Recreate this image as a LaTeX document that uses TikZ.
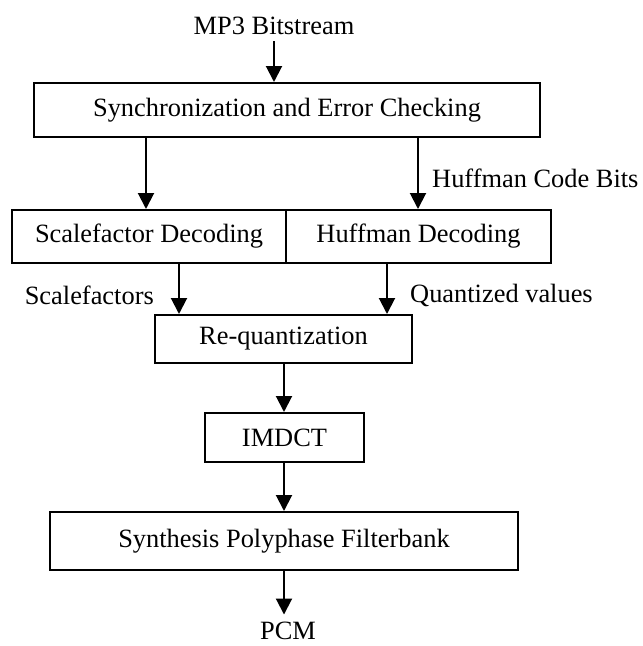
\documentclass[tikz,border=0pt]{standalone}
\usepackage{fontspec}
\setmainfont{Liberation Serif}
\usetikzlibrary{arrows.meta}
\begin{document}
\begin{tikzpicture}[x=1pt,y=-1pt,
  every node/.style={font=\fontsize{26.4}{31}\selectfont},
  block/.style={draw,line width=2pt,rectangle,inner sep=0pt},
  flow/.style={line width=2pt,-{Triangle[width=16pt,length=16pt]}},
  lbl/.style={inner sep=0pt},
  endlbl/.style={inner sep=0pt,outer ysep=7pt}]
\useasboundingbox (0,0) rectangle (643,646);

% processing blocks
\node[block,minimum width=506pt,minimum height=54pt] (sync) at (287,110) {Synchronization and Error Checking};
\node[block,minimum width=274pt,minimum height=53pt] (sf) at (149,236.5) {Scalefactor Decoding};
\node[block,minimum width=265pt,minimum height=53pt] (hd) at (418.5,236.5) {Huffman Decoding};
\node[block,minimum width=257pt,minimum height=48pt] (rq) at (283.5,339) {Re-quantization};
\node[block,minimum width=159pt,minimum height=49pt] (imdct) at (284.5,437.5) {IMDCT};
\node[block,minimum width=468pt,minimum height=58pt] (syn) at (284,541) {Synthesis Polyphase Filterbank};

% input and output
\node[endlbl,anchor=base] (mp3) at (274,34) {MP3 Bitstream};
\node[endlbl,anchor=base] (pcm) at (288,639) {PCM};

% side labels
\node[lbl,anchor=west] (hcb) at (432,178) {Huffman Code Bits};
\node[lbl,anchor=east] (scf) at (154,295) {Scalefactors};
\node[lbl,anchor=west] (qv) at (410,295) {Quantized values};

% arrow columns
\coordinate (xt) at (274,0);
\coordinate (xa) at (146,0);
\coordinate (xb) at (418,0);
\coordinate (xc) at (179,0);
\coordinate (xd) at (387,0);
\coordinate (xe) at (284,0);

% connectors
\draw[flow] (mp3.south -| xt) -- (sync.north -| xt);
\draw[flow] (sync.south -| xa) -- (sf.north -| xa);
\draw[flow] (sync.south -| xb) -- (hd.north -| xb);
\draw[flow] (sf.south -| xc) -- (rq.north -| xc);
\draw[flow] (hd.south -| xd) -- (rq.north -| xd);
\draw[flow] (rq.south -| xe) -- (imdct.north -| xe);
\draw[flow] (imdct.south -| xe) -- (syn.north -| xe);
\draw[flow] (syn.south -| xe) -- (pcm.north -| xe);
\end{tikzpicture}
\end{document}
